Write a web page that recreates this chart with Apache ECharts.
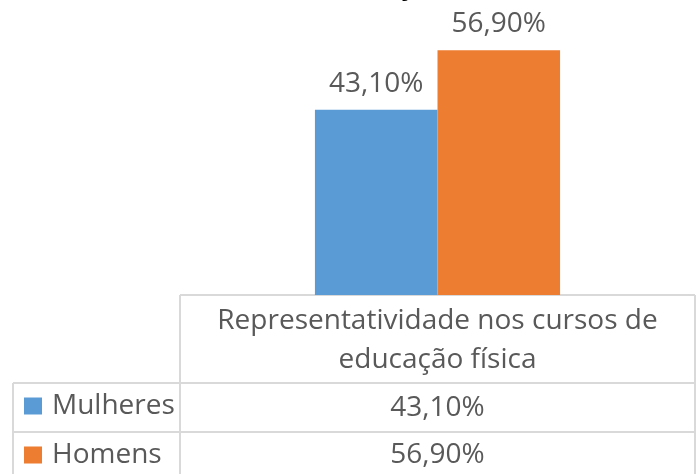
<!DOCTYPE html>
<html><head><meta charset="utf-8">
<script src="https://cdn.jsdelivr.net/npm/echarts@6/dist/echarts.min.js"></script>
<style>html,body{margin:0;padding:0;background:#fff}#c{width:697px;height:474px}</style>
</head><body><div id="c"></div>
<script>
const titleText = 'Distribuição';
const categories = ['Representatividade nos cursos de\neducação física'];
const seriesNames = ['Mulheres', 'Homens'];
const mulheres = [43.1];
const homens = [56.9];
const colors = ['#5B9BD5', '#ED7D31'];

const fmt = v => v.toFixed(2).replace('.', ',') + '%';
const FONT = '"Open Sans", sans-serif';
const TXT = '#595959';
const LINE = '#D9D9D9';

const chart = echarts.init(document.getElementById('c'));
const seriesData = [mulheres, homens];

const graphics = [];
const lines = [
  [180, 295, 695, 295], [13, 383, 695, 383], [13, 432, 695, 432], [13, 480, 695, 480],
  [180, 295, 180, 480], [695, 295, 695, 480], [13, 383, 13, 480]
];
lines.forEach(l => graphics.push({type: 'line', shape: {x1: l[0], y1: l[1], x2: l[2], y2: l[3]}, style: {stroke: LINE, lineWidth: 2}, silent: true}));
graphics.push({type: 'text', x: 437.5, y: 341, style: {text: categories[0], font: '28px ' + FONT, fill: TXT, textAlign: 'center', textVerticalAlign: 'middle', lineHeight: 39}});
const rowY = [408, 455];
seriesData.forEach((arr, i) => {
  graphics.push({type: 'text', x: 437.5, y: rowY[i], style: {text: fmt(arr[0]), font: '28px ' + FONT, fill: TXT, textAlign: 'center', textVerticalAlign: 'middle'}});
});
graphics.push({type: 'text', x: 276, y: 0.5, style: {text: titleText, font: 'bold 28px ' + FONT, fill: '#000', textAlign: 'left', textVerticalAlign: 'bottom'}});

const legendTops = [392, 441];
chart.setOption({
  animation: false,
  grid: {left: 180, right: 2, top: 37, bottom: 179},
  xAxis: {type: 'category', data: categories, show: false},
  yAxis: {type: 'value', min: 0, max: 60, show: false},
  legend: seriesNames.map((n, i) => ({
    orient: 'vertical', left: 24, top: legendTops[i], itemWidth: 18, itemHeight: 17, padding: 0,
    icon: 'rect', data: [n],
    textStyle: {fontFamily: FONT, fontSize: 28, color: TXT, padding: [0, 0, 0, 5]}
  })),
  series: seriesNames.map((n, i) => ({
    name: n, type: 'bar', data: seriesData[i], barGap: 0, barCategoryGap: '52.4%',
    itemStyle: {color: colors[i]},
    label: {show: true, position: 'top', distance: 12, formatter: p => fmt(p.value), fontFamily: FONT, fontSize: 28, color: TXT}
  })),
  graphic: graphics
});
</script></body></html>
